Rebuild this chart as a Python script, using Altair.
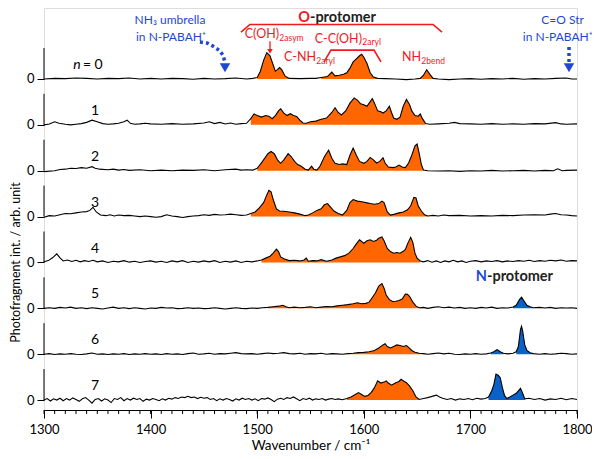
import altair as alt
import pandas as pd

# ---------------- data ----------------
S0 = [(1300,0.0),(1310,0.02),(1320,0.01),(1330,0.03),(1340,0.02),(1350,0.0),(1360,0.02),(1370,0.01),(1380,0.03),
      (1390,0.0),(1400,0.02),(1410,0.0),(1420,0.02),(1430,0.01),(1440,-0.01),(1450,0.02),(1460,0.0),(1470,0.01),
      (1480,0.03),(1490,0.0),(1496,0.02),(1500,0.05),(1503,0.25),(1506,0.6),(1509,0.85),(1512,0.75),(1515,0.45),
      (1517,0.25),(1519,0.3),(1521,0.37),(1523,0.3),(1526,0.1),(1530,0.02),(1540,0.01),(1550,0.02),(1555,0.02),
      (1560,0.05),(1566,0.08),(1570,0.22),(1573,0.1),(1577,0.12),(1581,0.15),(1584,0.2),(1587,0.35),(1590,0.55),
      (1593,0.65),(1596,0.75),(1598,0.8),(1600,0.7),(1603,0.5),(1606,0.2),(1609,0.06),(1613,0.02),(1620,0.01),
      (1630,0.0),(1640,-0.02),(1648,0.0),(1653,0.02),(1656,0.12),(1659,0.3),(1662,0.15),(1665,0.02),(1670,0.0),
      (1680,-0.02),(1690,0.0),(1700,0.01),(1710,-0.01),(1720,0.01),(1730,0.0),(1740,0.02),(1750,-0.01),
      (1760,0.01),(1770,0.0),(1780,0.02),(1790,0.03),(1795,0.0),(1800,0.0)]
S1 = [(1300,0.0),(1305,0.03),(1310,0.1),(1314,0.05),(1320,0.02),(1325,0.0),(1330,0.02),(1335,0.04),(1340,0.08),
      (1345,0.15),(1350,0.1),(1355,0.04),(1360,0.02),(1365,0.03),(1370,0.05),(1375,0.1),(1378,0.15),(1381,0.05),
      (1385,0.02),(1390,0.03),(1395,0.05),(1400,0.03),(1410,0.02),(1420,0.04),(1430,0.02),(1440,0.03),(1450,0.06),
      (1455,0.1),(1460,0.04),(1465,0.08),(1470,0.03),(1475,0.06),(1480,0.02),(1485,0.04),(1490,0.05),(1494,0.2),
      (1497,0.35),(1500,0.3),(1504,0.25),(1508,0.3),(1511,0.28),(1514,0.2),(1517,0.3),(1520,0.45),(1522,0.52),
      (1525,0.38),(1528,0.3),(1531,0.36),(1534,0.3),(1537,0.27),(1540,0.15),(1543,0.06),(1546,0.05),(1550,0.1),
      (1555,0.12),(1560,0.18),(1565,0.22),(1570,0.4),(1573,0.55),(1576,0.4),(1579,0.32),(1583,0.45),(1587,0.7),
      (1591,0.87),(1594,0.8),(1597,0.68),(1600,0.65),(1603,0.6),(1606,0.75),(1608,0.85),(1610,0.7),(1613,0.45),
      (1616,0.42),(1618,0.38),(1621,0.45),(1624,0.6),(1626,0.4),(1628,0.22),(1631,0.18),(1634,0.25),(1637,0.6),
      (1640,0.82),(1643,0.65),(1645,0.45),(1648,0.3),(1651,0.28),(1653,0.35),(1655,0.2),(1658,0.04),(1662,0.02),
      (1670,0.03),(1680,0.05),(1685,0.08),(1690,0.04),(1700,0.03),(1710,0.02),(1720,0.04),(1730,0.02),(1740,0.03),
      (1750,0.02),(1760,0.04),(1770,0.03),(1780,0.07),(1785,0.03),(1790,0.02),(1800,0.03)]
S2 = [(1300,-0.03),(1310,0.0),(1315,0.04),(1320,0.05),(1325,0.08),(1330,0.07),(1335,0.1),(1340,0.08),(1345,0.13),
      (1348,0.08),(1352,0.05),(1360,0.03),(1365,0.05),(1370,0.02),(1375,0.04),(1380,0.01),(1390,0.03),(1400,0.0),
      (1410,0.02),(1420,0.0),(1430,0.02),(1440,0.01),(1450,0.03),(1460,0.0),(1470,0.03),(1480,0.05),(1485,0.02),
      (1490,0.03),(1496,0.02),(1500,0.08),(1505,0.3),(1510,0.55),(1513,0.62),(1516,0.55),(1519,0.35),(1522,0.24),
      (1525,0.35),(1529,0.55),(1532,0.45),(1535,0.3),(1538,0.2),(1541,0.15),(1545,0.05),(1548,0.02),(1551,0.15),
      (1553,0.05),(1556,0.02),(1559,0.15),(1563,0.45),(1567,0.66),(1570,0.4),(1573,0.24),(1577,0.2),(1580,0.22),
      (1584,0.2),(1587,0.5),(1590,0.73),(1593,0.5),(1596,0.3),(1600,0.24),(1603,0.3),(1606,0.43),(1609,0.35),
      (1612,0.25),(1615,0.3),(1618,0.42),(1620,0.25),(1623,0.12),(1627,0.1),(1630,0.12),(1633,0.18),(1636,0.12),
      (1639,0.1),(1642,0.25),(1645,0.5),(1648,0.8),(1650,0.86),(1652,0.55),(1654,0.2),(1656,0.02),(1660,0.0),
      (1670,-0.01),(1680,0.0),(1690,-0.02),(1700,0.0),(1710,-0.01),(1720,0.01),(1730,-0.01),(1740,0.0),(1750,0.01),
      (1760,-0.01),(1770,0.01),(1778,0.0),(1782,0.06),(1786,0.0),(1790,0.01),(1800,0.02)]
S3 = [(1300,-0.02),(1305,0.03),(1310,0.02),(1315,0.06),(1320,0.1),(1325,0.09),(1330,0.12),(1335,0.15),(1340,0.16),
      (1343,0.2),(1346,0.3),(1349,0.15),(1353,0.05),(1358,0.03),(1362,0.06),(1366,0.02),(1370,0.05),(1375,0.03),
      (1380,0.04),(1385,0.02),(1390,0.0),(1395,0.02),(1400,0.0),(1405,-0.02),(1410,0.0),(1415,0.06),(1420,0.02),
      (1425,0.0),(1430,-0.03),(1435,0.0),(1440,0.02),(1445,0.03),(1450,0.06),(1455,0.04),(1460,0.07),(1465,0.05),
      (1470,0.06),(1475,0.08),(1480,0.06),(1485,0.04),(1490,0.05),(1494,0.1),(1498,0.15),(1502,0.28),(1506,0.45),
      (1509,0.7),(1511,0.85),(1513,0.8),(1515,0.55),(1518,0.25),(1521,0.18),(1525,0.17),(1530,0.15),(1535,0.12),
      (1540,0.08),(1545,0.03),(1548,0.05),(1552,0.12),(1556,0.2),(1560,0.25),(1563,0.38),(1566,0.42),(1569,0.3),
      (1572,0.18),(1576,0.1),(1580,0.05),(1584,0.2),(1587,0.45),(1590,0.55),(1594,0.5),(1598,0.48),(1602,0.45),
      (1606,0.42),(1610,0.4),(1614,0.42),(1617,0.5),(1619,0.45),(1622,0.15),(1625,0.05),(1629,0.08),(1633,0.12),
      (1637,0.15),(1641,0.22),(1644,0.35),(1647,0.62),(1649,0.6),(1651,0.35),(1654,0.18),(1657,0.06),(1660,0.02),
      (1665,0.04),(1670,0.02),(1675,0.05),(1680,0.03),(1690,0.04),(1700,0.02),(1710,0.03),(1720,0.02),(1730,0.04),
      (1740,0.03),(1750,0.05),(1760,0.06),(1770,0.05),(1775,0.08),(1780,0.1),(1785,0.06),(1790,0.05),(1795,0.03),
      (1800,0.02)]
S4 = [(1300,0.02),(1304,0.06),(1308,0.15),(1312,0.28),(1315,0.15),(1318,0.05),(1322,0.08),(1326,0.03),(1330,0.07),
      (1334,0.02),(1338,0.06),(1342,0.03),(1346,0.07),(1350,0.02),(1355,0.05),(1360,0.0),(1365,0.04),(1370,0.02),
      (1375,0.06),(1380,0.01),(1385,0.04),(1390,0.0),(1395,0.03),(1400,0.05),(1405,0.01),(1410,0.04),(1415,0.0),
      (1420,0.05),(1425,0.02),(1430,0.06),(1435,0.0),(1440,0.04),(1445,0.01),(1450,0.05),(1455,0.02),(1460,0.06),
      (1465,0.0),(1470,0.04),(1475,0.01),(1480,0.05),(1485,0.0),(1490,0.04),(1495,0.02),(1500,0.05),(1504,0.08),
      (1508,0.14),(1512,0.2),(1515,0.3),(1518,0.43),(1520,0.35),(1522,0.18),(1525,0.12),(1530,0.06),(1535,0.07),
      (1540,0.05),(1544,0.08),(1546,0.14),(1548,0.04),(1552,0.06),(1556,0.05),(1560,0.09),(1565,0.04),(1570,0.08),
      (1574,0.14),(1578,0.18),(1582,0.22),(1586,0.3),(1590,0.45),(1593,0.6),(1596,0.73),(1600,0.62),(1603,0.7),
      (1606,0.73),(1609,0.68),(1612,0.72),(1614,0.78),(1617,0.82),(1619,0.7),(1622,0.45),(1625,0.35),(1628,0.3),
      (1631,0.32),(1634,0.3),(1637,0.36),(1639,0.42),(1641,0.6),(1644,0.81),(1646,0.65),(1648,0.3),(1650,0.14),
      (1653,0.05),(1656,0.02),(1660,0.06),(1664,0.01),(1668,0.05),(1672,0.0),(1676,0.05),(1680,0.02),(1684,0.07),
      (1688,0.02),(1692,0.05),(1696,0.0),(1700,0.04),(1705,0.06),(1710,0.02),(1715,0.05),(1720,0.03),(1725,0.06),
      (1730,0.02),(1735,0.05),(1740,0.03),(1745,0.06),(1750,0.04),(1755,0.07),(1760,0.03),(1765,0.06),(1770,0.04),
      (1775,0.07),(1780,0.05),(1785,0.08),(1790,0.04),(1795,0.06),(1800,0.05)]
S5 = [(1300,0.0),(1305,0.02),(1310,0.0),(1315,0.03),(1320,0.01),(1325,0.04),(1330,0.0),(1335,0.02),(1340,-0.01),
      (1345,0.02),(1350,0.0),(1355,-0.02),(1360,0.01),(1365,0.04),(1370,0.0),(1375,0.02),(1380,-0.01),(1385,0.02),
      (1390,0.0),(1395,-0.02),(1400,0.01),(1405,0.0),(1410,0.03),(1415,0.01),(1420,0.02),(1425,-0.01),(1430,0.0),
      (1435,0.02),(1440,0.0),(1445,0.01),(1450,-0.01),(1455,0.0),(1460,0.02),(1465,0.0),(1470,-0.02),(1475,0.0),
      (1480,0.02),(1485,0.0),(1490,-0.01),(1495,0.01),(1500,0.0),(1505,0.02),(1510,0.03),(1515,0.05),(1520,0.07),
      (1524,0.1),(1527,0.05),(1530,0.02),(1535,0.04),(1540,0.02),(1545,0.03),(1550,0.05),(1555,0.02),(1560,0.04),
      (1565,0.06),(1570,0.05),(1575,0.08),(1580,0.1),(1585,0.12),(1590,0.15),(1594,0.18),(1598,0.15),(1602,0.16),
      (1605,0.2),(1608,0.35),(1611,0.5),(1614,0.72),(1617,0.8),(1619,0.65),(1621,0.43),(1624,0.28),(1627,0.22),
      (1630,0.23),(1633,0.25),(1636,0.3),(1639,0.46),(1641,0.45),(1643,0.38),(1646,0.2),(1649,0.07),(1652,0.02),
      (1656,0.03),(1660,0.0),(1665,0.03),(1670,0.05),(1675,0.02),(1680,0.04),(1685,0.01),(1690,0.03),(1695,0.0),
      (1700,0.02),(1705,0.0),(1710,0.03),(1715,0.01),(1720,0.04),(1725,0.0),(1730,0.02),(1735,0.01),(1740,0.04),
      (1743,0.1),(1746,0.28),(1748,0.36),(1750,0.25),(1753,0.1),(1756,0.05),(1759,0.02),(1765,0.03),(1770,0.01),
      (1775,0.03),(1780,0.0),(1785,0.02),(1790,0.01),(1795,0.02),(1800,0.0)]
S6 = [(1300,0.0),(1305,0.02),(1310,-0.01),(1315,0.01),(1320,0.0),(1325,0.02),(1330,0.0),(1335,-0.01),(1340,0.01),
      (1345,0.04),(1350,0.0),(1355,0.01),(1360,-0.01),(1365,0.01),(1370,0.0),(1375,0.02),(1380,-0.01),(1385,0.01),
      (1390,0.0),(1395,0.02),(1400,0.0),(1405,0.01),(1410,-0.01),(1415,0.02),(1420,0.0),(1425,0.01),(1430,-0.01),
      (1435,0.02),(1440,0.04),(1445,0.0),(1450,0.01),(1455,0.03),(1460,0.0),(1465,0.02),(1470,0.01),(1475,0.03),
      (1480,0.05),(1485,0.02),(1490,0.01),(1495,0.02),(1500,0.0),(1505,0.02),(1510,0.04),(1515,0.02),(1520,0.03),
      (1525,0.05),(1530,0.02),(1535,0.01),(1540,0.03),(1545,0.0),(1550,0.02),(1555,0.01),(1560,0.03),(1565,0.0),
      (1570,0.02),(1575,0.01),(1580,0.0),(1585,0.02),(1590,0.03),(1595,0.05),(1600,0.06),(1605,0.08),(1610,0.12),
      (1614,0.2),(1618,0.3),(1620,0.34),(1622,0.25),(1625,0.2),(1628,0.25),(1631,0.3),(1634,0.28),(1637,0.25),
      (1640,0.28),(1642,0.22),(1645,0.12),(1648,0.06),(1652,0.03),(1656,0.02),(1660,0.0),(1665,0.02),(1670,0.04),
      (1675,0.01),(1680,0.03),(1685,0.0),(1690,-0.01),(1695,0.01),(1700,0.0),(1705,0.02),(1710,0.0),(1715,0.01),
      (1719,0.04),(1722,0.08),(1725,0.15),(1728,0.08),(1731,0.03),(1735,0.01),(1740,0.03),(1743,0.08),(1745,0.25),
      (1747,0.8),(1748,0.9),(1749,0.75),(1751,0.3),(1753,0.12),(1756,0.05),(1759,0.02),(1765,0.0),(1770,0.02),
      (1775,0.0),(1780,0.01),(1785,0.03),(1790,0.02),(1795,0.0),(1800,0.01)]
S7 = [(1300,0.0),(1303,0.05),(1306,-0.03),(1309,0.04),(1312,0.0),(1315,0.06),(1318,-0.02),(1321,0.05),(1324,0.0),
      (1327,0.07),(1330,0.02),(1333,-0.04),(1336,0.04),(1339,0.08),(1342,0.0),(1345,-0.1),(1348,0.02),(1351,0.05),
      (1354,-0.03),(1357,0.04),(1360,0.0),(1363,-0.08),(1366,0.05),(1369,0.02),(1372,0.08),(1375,-0.02),(1378,0.05),
      (1381,0.0),(1384,0.06),(1387,0.02),(1390,0.05),(1393,-0.04),(1396,0.03),(1399,0.0),(1402,0.05),(1405,0.02),
      (1408,-0.02),(1411,0.04),(1414,0.0),(1417,0.06),(1420,0.03),(1423,0.08),(1426,0.05),(1429,0.1),(1432,0.08),
      (1435,0.12),(1438,0.08),(1441,0.1),(1444,0.05),(1447,0.09),(1450,0.06),(1453,0.08),(1456,0.02),(1459,0.05),
      (1462,-0.02),(1465,0.04),(1468,0.0),(1471,0.05),(1474,0.02),(1477,-0.03),(1480,0.04),(1483,0.0),(1486,0.06),
      (1489,0.02),(1492,0.05),(1495,0.0),(1498,0.04),(1501,-0.02),(1504,0.05),(1507,0.03),(1510,0.07),(1513,0.02),
      (1516,-0.05),(1519,0.03),(1522,0.06),(1525,0.02),(1528,0.08),(1531,0.05),(1534,0.1),(1537,0.04),(1540,-0.02),
      (1543,0.05),(1546,0.02),(1549,0.06),(1552,0.0),(1555,0.04),(1558,0.02),(1561,0.05),(1564,0.0),(1567,0.03),
      (1570,0.05),(1573,0.02),(1576,0.04),(1580,0.01),(1584,0.05),(1588,0.1),(1592,0.18),(1595,0.24),(1598,0.18),
      (1601,0.12),(1604,0.15),(1607,0.25),(1610,0.4),(1613,0.62),(1616,0.55),(1619,0.58),(1621,0.62),(1623,0.55),
      (1626,0.48),(1628,0.52),(1630,0.56),(1633,0.6),(1635,0.67),(1638,0.6),(1640,0.56),(1643,0.45),(1646,0.3),
      (1649,0.1),(1652,0.02),(1656,0.05),(1660,0.08),(1664,0.12),(1668,0.16),(1671,0.1),(1674,0.06),(1678,0.02),
      (1682,0.05),(1686,0.0),(1690,0.04),(1694,0.02),(1698,0.05),(1702,0.01),(1706,0.06),(1710,0.03),(1714,0.05),
      (1717,0.1),(1720,0.3),(1722,0.5),(1724,0.84),(1726,0.8),(1728,0.72),(1730,0.4),(1732,0.15),(1734,0.05),
      (1737,0.1),(1740,0.16),(1743,0.22),(1745,0.3),(1747,0.38),(1749,0.22),(1751,0.04),(1755,0.06),(1760,0.02),
      (1765,0.05),(1770,0.0),(1775,0.04),(1780,0.02),(1785,0.06),(1790,0.01),(1795,0.05),(1800,0.02)]
SPECTRA = [S0, S1, S2, S3, S4, S5, S6, S7]

ORANGE = "#FF6600"
BLUE = "#0A62C9"
# filled bands per panel: (start, end, protomer)
BANDS = [
    [(1500, 1530, "O"), (1557, 1614, "O"), (1652, 1666, "O")],
    [(1492, 1658, "O")],
    [(1499, 1656, "O")],
    [(1491, 1660, "O")],
    [(1502, 1655, "O")],
    [(1509, 1660, "O"), (1740, 1759, "N")],
    [(1581, 1660, "O"), (1717, 1731, "N"), (1741, 1759, "N")],
    [(1581, 1652, "O"), (1715, 1751, "N")],
]
PANEL_LABELS = ["0", "1", "2", "3", "4", "5", "6", "7"]
MAJOR_TICKS = [1300, 1400, 1500, 1600, 1700, 1800]
MINOR_TICKS = list(range(1300, 1801, 10))

OFF = 1.48           # vertical stacking offset between panels
YMIN, YMAX = -0.32, 12.65

# ---------------- build tables ----------------
line_rows, area_rows = [], []
for i, spec in enumerate(SPECTRA):
    off = (7 - i) * OFF
    for w, v in spec:
        line_rows.append({"panel": i, "wn": w, "y": v + off})
    for k, (a, b, kind) in enumerate(BANDS[i]):
        for w, v in spec:
            if a <= w <= b:
                area_rows.append({"seg": f"{i}-{k}", "wn": w, "y": v + off, "y0": off,
                                  "fill": ORANGE if kind == "O" else BLUE})
lines_df = pd.DataFrame(line_rows)
areas_df = pd.DataFrame(area_rows)
offsets = [(7 - i) * OFF for i in range(8)]
axis_df = pd.DataFrame({"y": offsets, "y2": [o + 1 for o in offsets]})
yvals = sorted(offsets + [o + 1 for o in offsets])

FONT = "Lato"
x = alt.X("wn:Q", scale=alt.Scale(domain=[1300, 1800], nice=False),
          axis=alt.Axis(values=MAJOR_TICKS, tickSize=8, labelFontSize=13, labelPadding=5,
                        labelFlush=False,
                        title="Wavenumber / cm\u207b\u00b9", titleFontSize=13.5, titleFontWeight="normal",
                        titlePadding=2, grid=False, domainColor="black", tickColor="black",
                        labelColor="black", titleColor="black", format="d"))
yscale = alt.Scale(domain=[YMIN, YMAX], nice=False, zero=False)
y = alt.Y("y:Q", scale=yscale,
          axis=alt.Axis(values=yvals,
                        labelExpr=f"abs(datum.value - round(datum.value/{OFF})*{OFF}) < 0.01 ? '0' : '1'",
                        labelOverlap=False, labelBound=False, labelFlush=False,
                        domain=False, tickSize=7, tickColor="black", labelFontSize=13, labelColor="black",
                        labelPadding=3, grid=False,
                        title="Photofragment int. / arb. unit", titleFontSize=12.5,
                        titleFontWeight="normal", titleColor="black", titleX=-22, titleY=254))

areas = alt.Chart(areas_df).mark_area(interpolate="linear").encode(
    x=x, y=y, y2="y0:Q", color=alt.Color("fill:N", scale=None), detail="seg:N")
lines = alt.Chart(lines_df).mark_line(color="black", strokeWidth=1.1).encode(
    x="wn:Q", y="y:Q", detail="panel:N")
yaxis_rules = alt.Chart(axis_df).mark_rule(color="black", strokeWidth=1).encode(
    x=alt.value(0), y="y:Q", y2="y2:Q")
minor = alt.Chart(pd.DataFrame({"wn": MINOR_TICKS})).mark_rule(color="black", strokeWidth=1).encode(
    x="wn:Q", y=alt.value(402), y2=alt.value(406))

# panel numbers
pl_df = pd.DataFrame({"wn": [1347.8] * 7, "y": [(7 - i) * OFF + 0.45 for i in range(1, 8)],
                      "t": PANEL_LABELS[1:]})
panel_txt = alt.Chart(pl_df).mark_text(font=FONT, fontSize=14, color="black", align="center",
                                       baseline="middle").encode(x="wn:Q", y="y:Q", text="t:N")
n_df = pd.DataFrame({"wn": [1334.5], "y": [7 * OFF + 0.45], "t": ["n"]})
n_txt = alt.Chart(n_df).mark_text(font=FONT, fontSize=14, fontStyle="italic", color="black",
                                  align="right", baseline="middle").encode(x="wn:Q", y="y:Q", text="t:N")
eq_df = pd.DataFrame({"wn": [1336.5], "y": [7 * OFF + 0.45], "t": ["= " + PANEL_LABELS[0]]})
eq_txt = alt.Chart(eq_df).mark_text(font=FONT, fontSize=14, color="black", align="left",
                                    baseline="middle").encode(x="wn:Q", y="y:Q", text="t:N")

# annotations
RED = "#F0191E"
TBLUE = "#1E48D2"
blue_df = pd.DataFrame({"wn": [1418.2, 1419.1, 1786.5, 1782.0],
                        "y": [12.26, 11.71, 12.26, 11.71],
                        "t": ["NH\u2083 umbrella", "in N-PABAH\u207a", "C=O Str", "in N-PABAH\u207a"]})
blue_txt = alt.Chart(blue_df).mark_text(font=FONT, fontSize=12, color=TBLUE, align="center",
                                        baseline="middle").encode(x="wn:Q", y="y:Q", text="t:N")
red_main_df = pd.DataFrame({"wn": [1520.5, 1555.2, 1598.3, 1653.7],
                            "y": [11.80, 11.07, 11.66, 11.07],
                            "t": ["C(OH)", "C-NH", "C-C(OH)", "NH"]})
red_main = alt.Chart(red_main_df).mark_text(font=FONT, fontSize=12.5, color=RED, align="right",
                                            baseline="middle").encode(x="wn:Q", y="y:Q", text="t:N")
red_sub_df = pd.DataFrame({"wn": [1520.8, 1555.5, 1598.6, 1654.0],
                           "y": [11.68, 10.95, 11.54, 10.95],
                           "t": ["2asym", "2aryl", "2aryl", "2bend"]})
red_sub = alt.Chart(red_sub_df).mark_text(font=FONT, fontSize=8.5, color=RED, align="left",
                                          baseline="middle").encode(x="wn:Q", y="y:Q", text="t:N")
head_df = pd.DataFrame({"wn": [1549.5, 1715.6], "y": [12.34, 3.97], "c": [RED, TBLUE], "t": ["O", "N"]})
head_txt = alt.Chart(head_df).mark_text(font=FONT, fontSize=14.5, fontWeight="bold", align="right",
                                        baseline="middle").encode(
    x="wn:Q", y="y:Q", text="t:N", color=alt.Color("c:N", scale=None))
tail_df = pd.DataFrame({"wn": [1549.5, 1715.6], "y": [12.34, 3.97], "t": ["-protomer", "-protomer"]})
tail_txt = alt.Chart(tail_df).mark_text(font=FONT, fontSize=14.5, fontWeight="bold", color="#222222",
                                        align="left", baseline="middle").encode(x="wn:Q", y="y:Q", text="t:N")

# brackets (red)
br_df = pd.DataFrame({
    "id": ["big"] * 4 + ["small"] * 4,
    "o": [0, 1, 2, 3] * 2,
    "wn": [1484.8, 1493.2, 1664.9, 1673.4, 1562.7, 1569.2, 1609.6, 1616.1],
    "y": [11.87, 12.12, 12.12, 11.87, 10.91, 11.29, 11.29, 10.91]})
brackets = alt.Chart(br_df).mark_line(color=RED, strokeWidth=1.6).encode(
    x="wn:Q", y="y:Q", detail="id:N", order="o:Q")
red_arrow_df = pd.DataFrame({"wn": [1512.0, 1512.0], "y": [11.58, 11.30]})
red_arrow = alt.Chart(red_arrow_df).mark_line(color=RED, strokeWidth=1.3).encode(x="wn:Q", y="y:Q")
red_head = alt.Chart(pd.DataFrame({"wn": [1512.0], "y": [11.25]})).mark_point(
    shape="triangle-down", filled=True, color=RED, size=30, opacity=1).encode(x="wn:Q", y="y:Q")

# dotted blue arrows
da_df = pd.DataFrame({
    "id": ["a"] * 6 + ["b"] * 2,
    "o": [0, 1, 2, 3, 4, 5, 0, 1],
    "wn": [1446.3, 1452.9, 1458.5, 1464.2, 1467.9, 1469.8, 1792.5, 1792.5],
    "y": [11.55, 11.52, 11.42, 11.29, 11.13, 10.9, 11.39, 10.9]})
dotted = alt.Chart(da_df).mark_line(color=TBLUE, strokeWidth=3.5, strokeDash=[3, 3]).encode(
    x="wn:Q", y="y:Q", detail="id:N", order="o:Q")
blue_heads = alt.Chart(pd.DataFrame({"wn": [1469.8, 1792.5], "y": [10.72, 10.72]})).mark_point(
    shape="triangle-down", filled=True, color=TBLUE, size=110, opacity=1).encode(x="wn:Q", y="y:Q")

chart = alt.layer(
    areas, lines, yaxis_rules, minor, panel_txt, n_txt, eq_txt, blue_txt, red_main, red_sub,
    head_txt, tail_txt, brackets, red_arrow, red_head, dotted, blue_heads
).properties(
    width=533, height=402,
    autosize=alt.AutoSizeParams(type="none"),
    padding={"left": 36, "top": 0, "right": 15, "bottom": 41},
).configure_view(stroke=None).configure(font=FONT)

chart.save("out.html", embed_options={"renderer": "svg", "actions": False})
